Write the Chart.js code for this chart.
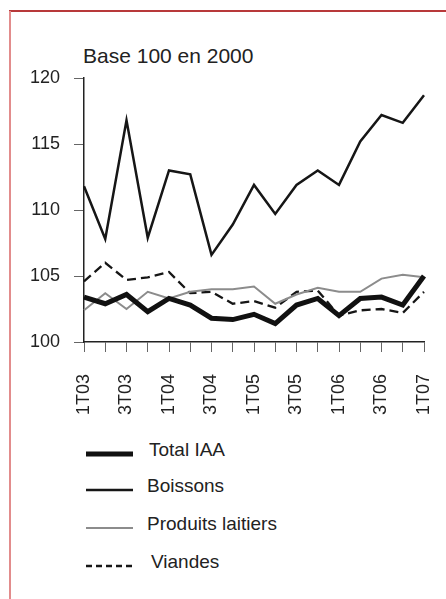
<!DOCTYPE html>
<html>
<head>
<meta charset="utf-8">
<script src="https://cdn.jsdelivr.net/npm/chart.js@4/dist/chart.umd.min.js"></script>
<style>
  html, body { margin:0; padding:0; background:#fff; width:446px; height:599px; overflow:hidden; }
  body { position:relative; font-family:"Liberation Sans", Arial, sans-serif; color:#222; }
  #frameTop { position:absolute; left:9px; top:10px; width:437px; height:0; border-top:2px solid #b8393a; }
  #frameLeft { position:absolute; left:9px; top:11px; width:0; height:588px; border-left:2px solid #e28c8c; }
  #wrap { position:absolute; left:0; top:0; width:446px; height:420px; }
  #note { position:absolute; left:83px; top:44px; font-size:21px; line-height:24px; color:#222; white-space:nowrap; }
  .leg { position:absolute; left:0; width:446px; height:30px; }
  .leg svg { position:absolute; left:86px; top:0; }
  .leg span { position:absolute; font-size:19px; line-height:22px; color:#222; white-space:nowrap; }
</style>
</head>
<body>
<div id="frameTop"></div>
<div id="frameLeft"></div>
<div id="note">Base 100 en 2000</div>
<div id="wrap"><canvas id="c" width="446" height="420"></canvas></div>
<div id="legend"></div>
<script>
// ---- data ----
const quarters = ["1T03","2T03","3T03","4T03","1T04","2T04","3T04","4T04","1T05","2T05","3T05","4T05","1T06","2T06","3T06","4T06","1T07"];
const seriesNames = ["Total IAA","Boissons","Produits laitiers","Viandes"];
const totalIAA = [103.4,102.9,103.6,102.3,103.3,102.8,101.8,101.7,102.1,101.4,102.8,103.3,102.0,103.3,103.4,102.8,105.0];
const boissons = [111.8,107.8,116.8,107.9,113.0,112.7,106.6,108.9,111.9,109.7,111.9,113.0,111.9,115.2,117.2,116.6,118.7];
const produitsLaitiers = [102.4,103.7,102.5,103.8,103.3,103.8,104.0,104.0,104.2,102.9,103.6,104.1,103.8,103.8,104.8,105.1,104.9];
const viandes = [104.6,106.0,104.7,104.9,105.3,103.7,103.8,102.9,103.1,102.6,103.8,103.9,102.0,102.4,102.5,102.2,103.8];
const yTicks = [100,105,110,115,120];

const styles = [
  {color:"#111111", width:5, dash:[]},
  {color:"#161616", width:2.5, dash:[]},
  {color:"#8c8c8c", width:2, dash:[]},
  {color:"#161616", width:2.3, dash:[9,5]}
];
const values = [totalIAA, boissons, produitsLaitiers, viandes];

const datasets = seriesNames.map((n,i)=>({
  label:n, data:values[i],
  borderColor:styles[i].color, backgroundColor:styles[i].color,
  borderWidth:styles[i].width, borderDash:styles[i].dash,
  pointRadius:0, tension:0, fill:false,
  borderCapStyle:"butt", borderJoinStyle:"miter"
}));

const font = {family:"'Liberation Sans', Arial, sans-serif", size:18};

const chart = new Chart(document.getElementById("c"), {
  type:"line",
  data:{labels:quarters, datasets},
  options:{
    responsive:false, devicePixelRatio:1, animation:false,
    layout:{padding:{top:78,right:22,left:0,bottom:0}},
    plugins:{legend:{display:false}, tooltip:{enabled:false}, title:{display:false}},
    scales:{
      x:{
        offset:false,
        grid:{drawOnChartArea:false, tickLength:10, color:"#666", lineWidth:1},
        border:{color:"#222", width:1.5},
        ticks:{autoSkip:false, maxRotation:90, minRotation:90, padding:22, color:"#222", font,
          callback:function(v,i){ return i%2===0 ? quarters[i] : ""; }},
        afterFit:function(s){ s.height = 78; s.paddingLeft = 0; s.paddingRight = 0; }
      },
      y:{
        min:yTicks[0], max:yTicks[yTicks.length-1],
        afterBuildTicks:function(s){ s.ticks = yTicks.map(v=>({value:v})); },
        grid:{drawOnChartArea:false, tickLength:10, color:"#666", lineWidth:1},
        border:{color:"#222", width:1.5},
        ticks:{padding:14, color:"#222", font},
        afterFit:function(s){ s.width = 84; }
      }
    }
  }
});

// ---- legend (vertical, built from datasets) ----
const legRows = [
  {lineY:454, textX:149},
  {lineY:490, textX:147},
  {lineY:528, textX:147},
  {lineY:566, textX:151}
];
const legend = document.getElementById("legend");
chart.data.datasets.forEach((ds,i)=>{
  const r = legRows[i];
  const row = document.createElement("div");
  row.className = "leg";
  row.style.top = (r.lineY - 15) + "px";
  const dash = (i===3) ? ' stroke-dasharray="6,4"' : '';
  row.innerHTML = '<svg width="48" height="30"><line x1="0" y1="15" x2="47" y2="15" stroke="'+ds.borderColor+'" stroke-width="'+(i===0?5:(i===2?2.2:2.5))+'"'+dash+'/></svg>';
  const sp = document.createElement("span");
  sp.textContent = ds.label;
  sp.style.left = r.textX + "px";
  sp.style.top = "0px";
  row.appendChild(sp);
  legend.appendChild(row);
});
</script>
</body>
</html>
